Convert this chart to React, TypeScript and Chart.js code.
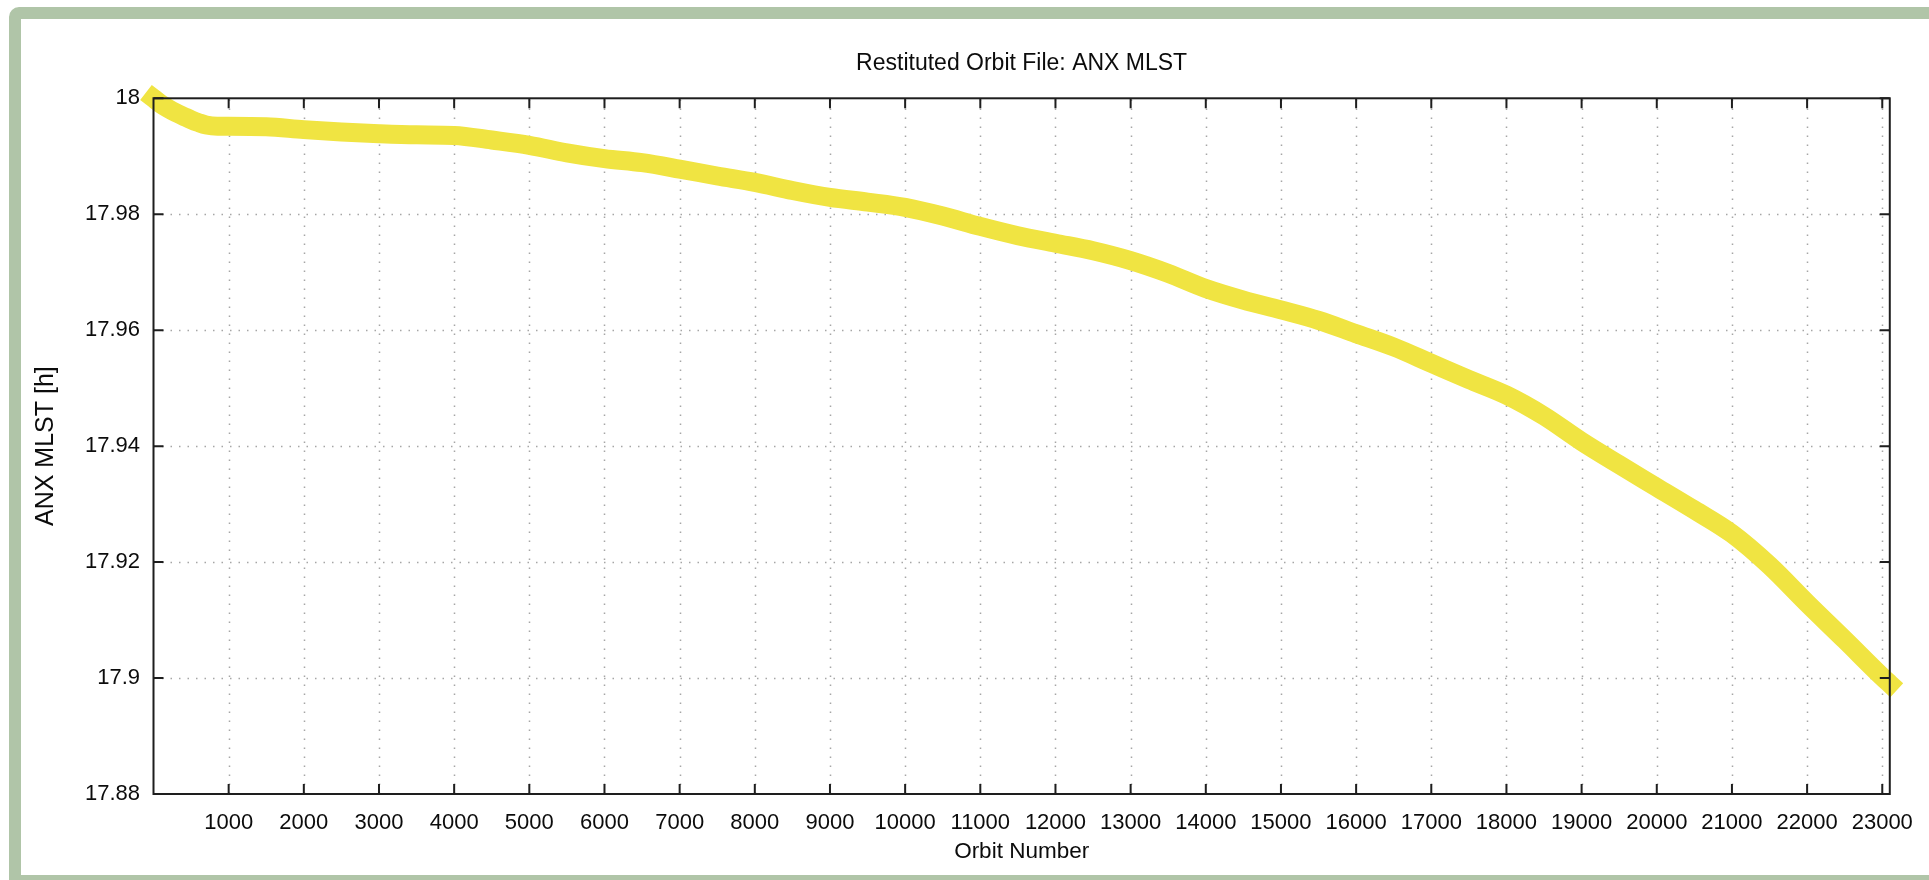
import React, { useEffect, useRef } from "react";
import { Chart, registerables } from "chart.js";

Chart.register(...registerables);

const TITLE = "Restituted Orbit File: ANX MLST";
const X_TITLE = "Orbit Number";
const Y_TITLE = "ANX MLST [h]";

const ORBITS = [
  0, 100, 200, 300, 400, 500, 600, 700, 850, 1000, 1500, 2000, 2500, 3000, 3500,
  4000, 4500, 5000, 5500, 6000, 6500, 7000, 7500, 8000, 8500, 9000, 9500, 10000,
  10500, 11000, 11500, 12000, 12500, 13000, 13500, 14000, 14500, 15000, 15500,
  16000, 16500, 17000, 17500, 18000, 18500, 19000, 19500, 20000, 20500, 21000,
  21500, 22000, 22500, 23000, 23100,
];

const MLST = [
  18.0, 17.999, 17.9982, 17.9975, 17.9969, 17.9963, 17.9958, 17.9954, 17.9952,
  17.9952, 17.9951, 17.9946, 17.9942, 17.9939, 17.9937, 17.9936, 17.9928,
  17.9919, 17.9906, 17.9896, 17.9889, 17.9878, 17.9866, 17.9855, 17.9841,
  17.9829, 17.9821, 17.9812, 17.9797, 17.9779, 17.9763, 17.975, 17.9737, 17.972,
  17.9698, 17.9672, 17.9652, 17.9635, 17.9617, 17.9594, 17.9571, 17.9543,
  17.9515, 17.9488, 17.9452, 17.9408, 17.9368, 17.9329, 17.929, 17.9249,
  17.9194, 17.9129, 17.9066, 17.9002, 17.899,
];

const X_TICKS = [
  1000, 2000, 3000, 4000, 5000, 6000, 7000, 8000, 9000, 10000, 11000, 12000,
  13000, 14000, 15000, 16000, 17000, 18000, 19000, 20000, 21000, 22000, 23000,
];
const Y_TICKS = [17.88, 17.9, 17.92, 17.94, 17.96, 17.98, 18];
const Y_TICK_LABELS = ["17.88", "17.9", "17.92", "17.94", "17.96", "17.98", "18"];

const X_MIN = 0;
const X_MAX = 23100;
const Y_MIN = 17.88;
const Y_MAX = 18;

const FONT = "'Liberation Sans', Arial, Helvetica, sans-serif";
const TEXT = "#0c0c0c";

const gnuplotFrame = {
  id: "gnuplotFrame",
  beforeDatasetsDraw(chart: any) {
    const { ctx, chartArea: a, scales } = chart;
    const xs = scales.x;
    const ys = scales.y;
    ctx.save();
    ctx.strokeStyle = "rgba(150,150,150,0.85)";
    ctx.lineWidth = 1.5;
    ctx.setLineDash([1.5, 7.5]);
    for (const v of X_TICKS) {
      const px = Math.round(xs.getPixelForValue(v)) + 0.5;
      ctx.beginPath();
      ctx.moveTo(px, a.bottom);
      ctx.lineTo(px, a.top);
      ctx.stroke();
    }
    ctx.setLineDash([1.5, 7]);
    for (const v of Y_TICKS) {
      if (v === Y_MIN || v === Y_MAX) continue;
      const py = Math.round(ys.getPixelForValue(v)) + 0.5;
      ctx.beginPath();
      ctx.moveTo(a.left, py);
      ctx.lineTo(a.right, py);
      ctx.stroke();
    }
    ctx.restore();
  },
  afterDatasetsDraw(chart: any) {
    const { ctx, chartArea: a, scales } = chart;
    const xs = scales.x;
    const ys = scales.y;
    ctx.save();
    ctx.strokeStyle = "#1e1e1e";
    ctx.lineWidth = 2;
    ctx.setLineDash([]);
    ctx.strokeRect(a.left, a.top, a.right - a.left, a.bottom - a.top);
    const tl = 10;
    ctx.beginPath();
    for (const v of X_TICKS) {
      const px = xs.getPixelForValue(v);
      ctx.moveTo(px, a.bottom);
      ctx.lineTo(px, a.bottom - tl);
      ctx.moveTo(px, a.top);
      ctx.lineTo(px, a.top + tl);
    }
    for (const v of Y_TICKS) {
      const py = ys.getPixelForValue(v);
      ctx.moveTo(a.left, py);
      ctx.lineTo(a.left + tl, py);
      ctx.moveTo(a.right, py);
      ctx.lineTo(a.right - tl, py);
    }
    ctx.stroke();
    ctx.fillStyle = TEXT;
    ctx.font = `23px ${FONT}`;
    ctx.textAlign = "center";
    ctx.textBaseline = "middle";
    ctx.fillText(TITLE, (a.left + a.right) / 2, 43.5);
    ctx.restore();
  },
};

export default function App() {
  const canvasRef = useRef<HTMLCanvasElement | null>(null);

  useEffect(() => {
    const canvas = canvasRef.current;
    if (!canvas) return;
    const chart = new Chart(canvas, {
      type: "line",
      data: {
        datasets: [
          {
            label: Y_TITLE,
            data: ORBITS.map((o, i) => ({ x: o, y: MLST[i] })),
            borderColor: "#f0e442",
            backgroundColor: "#f0e442",
            borderWidth: 19,
            pointRadius: 0,
            pointHoverRadius: 0,
            cubicInterpolationMode: "monotone",
            borderCapStyle: "square",
            borderJoinStyle: "round",
            fill: false,
            clip: false as any,
          },
        ],
      },
      options: {
        animation: false,
        responsive: false,
        devicePixelRatio: 1,
        events: [],
        layout: { padding: { top: 78.3, left: 0, right: 32.3, bottom: 0 } },
        plugins: {
          legend: { display: false },
          title: { display: false },
          tooltip: { enabled: false },
        },
        scales: {
          x: {
            type: "linear",
            min: X_MIN,
            max: X_MAX,
            afterBuildTicks: (s: any) => {
              s.ticks = X_TICKS.map((v) => ({ value: v }));
            },
            afterFit: (s: any) => {
              s.height = 81;
            },
            grid: { display: false, drawTicks: false },
            border: { display: false },
            ticks: {
              padding: 16,
              autoSkip: false,
              maxRotation: 0,
              color: TEXT,
              font: { family: FONT, size: 22 },
              callback: (v: any) => String(v),
            },
            title: {
              display: true,
              text: X_TITLE,
              color: TEXT,
              font: { family: FONT, size: 22.5 },
              padding: { top: 0, bottom: 10 },
            },
          },
          y: {
            type: "linear",
            min: Y_MIN,
            max: Y_MAX,
            afterBuildTicks: (s: any) => {
              s.ticks = Y_TICKS.map((v) => ({ value: v }));
            },
            afterFit: (s: any) => {
              s.width = 132.5;
            },
            grid: { display: false, drawTicks: false },
            border: { display: false },
            ticks: {
              padding: 13.5,
              autoSkip: false,
              color: TEXT,
              font: { family: FONT, size: 22 },
              callback: (v: any) => {
                const i = Y_TICKS.findIndex((t) => Math.abs(t - v) < 1e-9);
                return i >= 0 ? Y_TICK_LABELS[i] : String(v);
              },
            },
            title: {
              display: true,
              text: Y_TITLE,
              color: TEXT,
              font: { family: FONT, size: 25 },
              padding: { top: 10, bottom: 0 },
            },
          },
        },
      },
      plugins: [gnuplotFrame],
    } as any);
    return () => chart.destroy();
  }, []);

  return (
    <div
      style={{
        position: "fixed",
        left: 0,
        top: 0,
        width: 1929,
        height: 880,
        overflow: "hidden",
        background: "#ffffff",
      }}
    >
      <div
        style={{
          position: "absolute",
          left: 9,
          top: 7,
          width: 1990,
          height: 900,
          boxSizing: "border-box",
          border: "12.5px solid #b0c5a8",
          borderRadius: 10,
          background: "#ffffff",
        }}
      />
      <canvas
        ref={canvasRef}
        width={1908}
        height={855}
        style={{ position: "absolute", left: 21, top: 20, width: 1908, height: 855 }}
      />
      <div
        style={{
          position: "absolute",
          left: 9,
          top: 875,
          width: 1930,
          height: 10,
          background: "#b0c5a8",
        }}
      />
    </div>
  );
}
